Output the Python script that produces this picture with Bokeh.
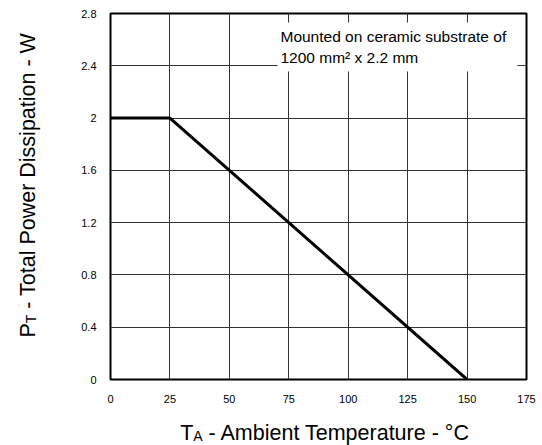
from bokeh.plotting import figure
from bokeh.models import Range1d, FixedTicker, Label
from bokeh.layouts import row, column
from bokeh.embed import file_html
from bokeh.resources import INLINE
import math

# Power derating curve
temp_c = [0, 25, 150]
power_w = [2.0, 2.0, 0.0]

x_ticks = [0, 25, 50, 75, 100, 125, 150, 175]
y_ticks = [0, 0.4, 0.8, 1.2, 1.6, 2.0, 2.4, 2.8]
y_tick_labels = {0: "0", 0.4: "0.4", 0.8: "0.8", 1.2: "1.2", 1.6: "1.6", 2.0: "2", 2.4: "2.4", 2.8: "2.8"}

note_line1 = "Mounted on ceramic substrate of"
note_line2 = "1200 mm\u00b2 x 2.2 mm"

FONT = "Liberation Sans"

# Arial / Liberation Sans advance widths (units per 1000 em)
AW = {" ": 278, "-": 333, "A": 667, "C": 722, "D": 722, "P": 667, "T": 611, "W": 944,
      "a": 556, "b": 556, "e": 556, "i": 222, "l": 222, "m": 833, "n": 556, "o": 556,
      "p": 556, "r": 333, "s": 500, "t": 278, "u": 556, "w": 722, "\u00b0": 400}


def text_width(s, size):
    return sum(AW.get(ch, 556) for ch in s) * size / 1000.0


def baseline_shift(size):
    # distance from a label's anchor to where its glyph baseline is drawn
    return 0.35 * size


LEFT_W = 50
MAIN_W, MAIN_H = 492, 410
BOTTOM_H = 35
FRAME_L, FRAME_R = 110, 526      # canvas x of the plot frame
FRAME_T, FRAME_B = 13, 379       # canvas y of the plot frame


def text_panel(w, h, x_lo, x_hi, y_top, y_bot, **borders):
    """Blank panel whose data coordinates are page pixels (y grows downward)."""
    f = figure(width=w, height=h, output_backend="svg", toolbar_location=None,
               x_range=Range1d(x_lo, x_hi), y_range=Range1d(y_bot, y_top),
               x_axis_location=None, y_axis_location=None, min_border=0, **borders)
    f.outline_line_color = None
    f.grid.visible = False
    f.background_fill_color = "white"
    f.border_fill_color = "white"
    return f


# ---- main chart ----
p = figure(width=MAIN_W, height=MAIN_H, output_backend="svg", toolbar_location=None,
           x_range=Range1d(0, 175), y_range=Range1d(0, 2.8),
           min_border_left=FRAME_L - LEFT_W, min_border_right=LEFT_W + MAIN_W - FRAME_R,
           min_border_top=FRAME_T, min_border_bottom=MAIN_H - FRAME_B)
p.background_fill_color = "white"
p.border_fill_color = "white"
p.outline_line_color = "black"
p.outline_line_width = 2

p.xaxis.ticker = FixedTicker(ticks=x_ticks)
p.yaxis.ticker = FixedTicker(ticks=y_ticks)
p.yaxis.major_label_overrides = y_tick_labels
for ax in (p.xaxis, p.yaxis):
    ax.axis_line_color = None
    ax.major_tick_line_color = None
    ax.minor_tick_line_color = None
    ax.major_label_text_font = FONT
    ax.major_label_text_font_size = "11px"
    ax.major_label_text_color = "black"
p.xaxis.major_label_standoff = 9
p.yaxis.major_label_standoff = 8

p.xgrid.ticker = FixedTicker(ticks=x_ticks)
p.ygrid.ticker = FixedTicker(ticks=y_ticks)
for g in (p.xgrid, p.ygrid):
    g.grid_line_color = "#333333"
    g.grid_line_width = 1
    g.grid_line_alpha = 1.0

# derating curve
p.line(temp_c, power_w, line_color="black", line_width=3)

# note box with white background over the grid
px_per_w = (FRAME_B - FRAME_T) / 2.8
NOTE_SIZE = 15.5
note_y1 = (FRAME_B - (41.0 - baseline_shift(NOTE_SIZE))) / px_per_w
note_y2 = (FRAME_B - (62.7 - baseline_shift(NOTE_SIZE))) / px_per_w
p.quad(left=[70.3], right=[171.2], bottom=[2.356], top=[2.731],
       fill_color="white", line_color=None)
for txt, yv in ((note_line1, note_y1), (note_line2, note_y2)):
    p.add_layout(Label(x=71.5, y=yv, text=txt, text_font=FONT,
                       text_font_size=f"{NOTE_SIZE}px", text_color="black",
                       text_baseline="alphabetic"))

BIG, SMALL = 21.5, 14

# ---- x title: "T" + small "A" + rest ----
bottom = text_panel(MAIN_W, BOTTOM_H, FRAME_L, FRAME_R, MAIN_H, MAIN_H + BOTTOM_H,
                    min_border_left=FRAME_L - LEFT_W, min_border_right=LEFT_W + MAIN_W - FRAME_R)
x_rest = "- Ambient Temperature - \u00b0C"
w_T, w_A, w_sp = text_width("T", BIG), text_width("A", SMALL), text_width(" ", BIG)
w_total = w_T + w_A + w_sp + text_width(x_rest, BIG)
x_start = 326 - w_total / 2
x_base = 440.5
for txt, sz, off in [("T", BIG, 0.0), ("A", SMALL, w_T), (x_rest, BIG, w_T + w_A + w_sp)]:
    bottom.add_layout(Label(x=x_start + off, y=x_base - baseline_shift(sz), text=txt,
                            text_font=FONT, text_font_size=f"{sz}px", text_color="black",
                            text_align="left", text_baseline="alphabetic"))

# ---- y title: "P" + small "T" + rest, reading upwards ----
left = text_panel(LEFT_W, MAIN_H + BOTTOM_H, 0, LEFT_W, 0, MAIN_H + BOTTOM_H)
y_rest = "- Total Power Dissipation - W"
w_P, w_t, w_sp = text_width("P", BIG), text_width("T", SMALL), text_width(" ", BIG)
h_total = w_P + w_t + w_sp + text_width(y_rest, BIG)
y_start = 183.5 + h_total / 2
y_base = 35
for txt, sz, off in [("P", BIG, 0.0), ("T", SMALL, w_P), (y_rest, BIG, w_P + w_t + w_sp)]:
    left.add_layout(Label(x=y_base - baseline_shift(sz), y=y_start - off, text=txt,
                          text_font=FONT, text_font_size=f"{sz}px", text_color="black",
                          angle=math.pi / 2, text_align="left", text_baseline="alphabetic"))

layout = row(left, column(p, bottom, spacing=0), spacing=0)
open("out.html", "w").write(file_html(layout, INLINE))
